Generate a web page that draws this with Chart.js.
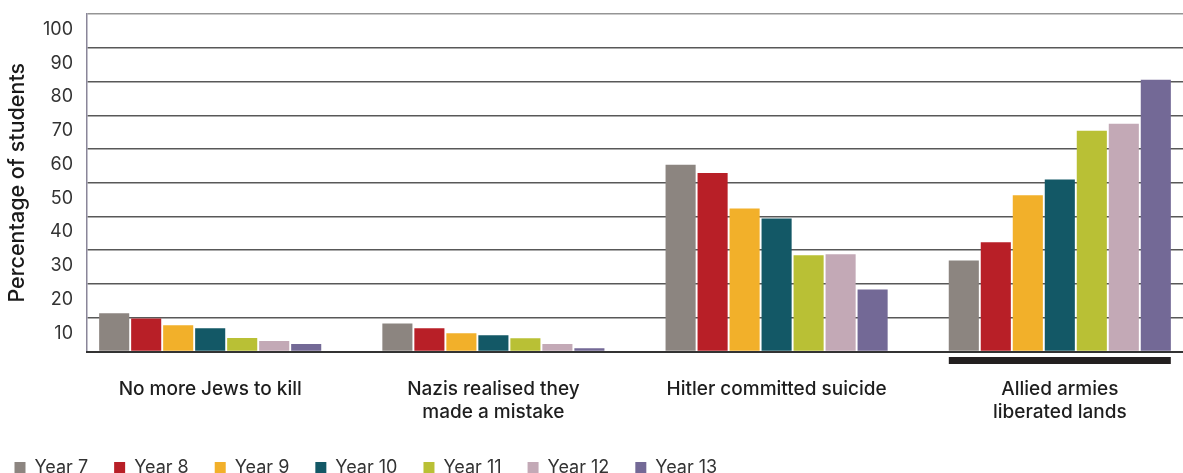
<!DOCTYPE html>
<html>
<head>
<meta charset="utf-8">
<title>Reasons students gave for the end of the Holocaust</title>
<script src="https://cdn.jsdelivr.net/npm/chart.js@4.4.1/dist/chart.umd.min.js"></script>
<style>
  html, body { margin: 0; padding: 0; background: #fff; }
  #wrap { width: 1183px; height: 473px; position: relative; }
</style>
</head>
<body>
<div id="wrap"><canvas id="reasonsChart"></canvas></div>
<script>
// Data (percentage of students)
const categories = [
    'No more Jews to kill',
    ['Nazis realised they', 'made a mistake'],
    'Hitler committed suicide',
    ['Allied armies', 'liberated lands']
];
const yearLabels = ['Year 7', 'Year 8', 'Year 9', 'Year 10', 'Year 11', 'Year 12', 'Year 13'];
const year7 = [11.3, 8.3, 55.3, 27.0];
const year8 = [9.8, 6.9, 52.9, 32.4];
const year9 = [7.8, 5.4, 42.4, 46.3];
const year10 = [6.9, 4.8, 39.4, 51.0];
const year11 = [4.0, 3.9, 28.5, 65.4];
const year12 = [3.1, 2.2, 28.8, 67.5];
const year13 = [2.2, 1.0, 18.4, 80.5];
const yearColors = ['#8c8580', '#b81f27', '#f2b02a', '#135866', '#b9c035', '#c3a9b6', '#736996'];
const highlightIndex = 3; // category underlined with a black bar

const categoryPct = 0.791;

Chart.defaults.font.family = 'Inter, "Liberation Sans", Arial, sans-serif';
Chart.defaults.color = '#333';

// Build datasets, one per school year
const yearSeries = [year7, year8, year9, year10, year11, year12, year13];
const datasets = yearSeries.map((values, i) => ({
    label: yearLabels[i],
    data: values.map((v, j) => ({ x: j, y: v })),
    backgroundColor: yearColors[i],
    borderWidth: 0,
    categoryPercentage: categoryPct,
    barPercentage: 0.94
}));

// Thick black bar under the highlighted group
const highlightBar = {
    id: 'highlightBar',
    afterDatasetsDraw(chart) {
        const x = chart.scales.x;
        const step = x.getPixelForValue(1) - x.getPixelForValue(0);
        const w = step * categoryPct;
        const cx = x.getPixelForValue(highlightIndex);
        const ctx = chart.ctx;
        ctx.save();
        ctx.fillStyle = '#231f20';
        ctx.fillRect(cx - w / 2 + 1, chart.chartArea.bottom + 5.5, w - 2, 7);
        ctx.restore();
    }
};

// Nudge the legend towards the left edge
const legendShift = {
    id: 'legendShift',
    afterLayout(chart) {
        chart.legend.left -= 11.5;
    }
};

const ctx = document.getElementById('reasonsChart').getContext('2d');
const reasonsChart = new Chart(ctx, {
    type: 'bar',
    data: { datasets: datasets },
    options: {
        responsive: true,
        maintainAspectRatio: false,
        animation: false,
        layout: { padding: { top: 14, left: 0, right: 0, bottom: -13.5 } },
        plugins: {
            tooltip: { enabled: false },
            legend: {
                position: 'bottom',
                align: 'start',
                labels: {
                    boxWidth: 11,
                    boxHeight: 11,
                    padding: 26,
                    color: '#333',
                    font: { size: 18 }
                }
            }
        },
        scales: {
            x: {
                type: 'linear',
                offset: false,
                min: -0.435,
                max: 3.435,
                grid: { display: false },
                border: { display: true, color: '#333', width: 2, z: 1 },
                ticks: {
                    stepSize: 1,
                    includeBounds: false,
                    autoSkip: false,
                    maxRotation: 0,
                    padding: 17.5,
                    color: '#1e1e1e',
                    font: { size: 19, weight: 500, lineHeight: 1.25 },
                    callback: (v) => Number.isInteger(v) && categories[v] !== undefined ? categories[v] : ''
                },
                afterFit: (scale) => {
                    scale.height = 81;
                    scale.paddingLeft = 0;
                    scale.paddingRight = 0;
                }
            },
            y: {
                min: 0,
                max: 100,
                grid: {
                    drawTicks: false,
                    lineWidth: 1.5,
                    color: (c) => c.tick.value === 0 ? 'rgba(0,0,0,0)' : (c.tick.value === 100 ? '#959595' : '#585858')
                },
                border: { display: true, color: '#8a8699', width: 1.5 },
                ticks: {
                    stepSize: 10,
                    padding: 14,
                    labelOffset: 15.5,
                    color: '#333',
                    font: { size: 18 },
                    callback: (v) => v === 0 ? '' : v
                },
                title: {
                    display: true,
                    text: 'Percentage of students',
                    color: '#1a1a1a',
                    font: { size: 21.5, weight: 500 },
                    padding: { top: 5, bottom: 0 }
                },
                afterFit: (scale) => {
                    scale.width = 87;
                    scale.paddingTop = 0;
                    scale.paddingBottom = 0;
                }
            }
        }
    },
    plugins: [highlightBar, legendShift]
});
</script>
</body>
</html>
